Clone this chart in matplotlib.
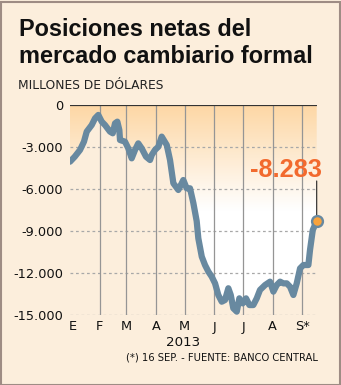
import numpy as np
import matplotlib
matplotlib.use("Agg")
import matplotlib.pyplot as plt
from matplotlib.patches import Rectangle
from matplotlib.colors import LinearSegmentedColormap

# ---- data (day of year 2013, Jan 1 = 0; values in millions of USD) ----
days = [0, 5, 10.5, 14.6, 17.5, 22.7, 26.2, 29.6, 33.2, 36.6, 41.8, 44.7, 47.1, 49.5,
        51.6, 52.3, 57.5, 61, 64.5, 68, 71.4, 75, 79.5, 83.7, 85.5, 88.9, 92.4, 95.9,
        101.2, 104.6, 108.1, 113.3, 118.5, 122, 125.5, 129, 132.5, 134.2, 137.8, 141.2,
        144.7, 148.2, 151.7, 155.1, 158.7, 162.1, 165.6, 168.1, 170.8, 174.4, 177.1,
        180.6, 184.1, 187.6, 191.7, 195.3, 198.7, 204, 209.2, 212.7, 216.2, 219.7,
        223.1, 226.7, 230.1, 233.6, 237.1, 240.6, 244.1, 249.3, 251, 253.9, 258]
values = [-4050, -3690, -3210, -2620, -1900, -1430, -950, -710, -1190, -1430, -1900,
          -2020, -1310, -1190, -1790, -2500, -2620, -3100, -3810, -3210, -2740, -3100,
          -3690, -3930, -3570, -3210, -2980, -2260, -2860, -3930, -5590, -6070, -5360,
          -5950, -5950, -7000, -8300, -9520, -10830, -11430, -11900, -12260, -12740,
          -13570, -14050, -13930, -13090, -13570, -14520, -14760, -13810, -14170,
          -13810, -14290, -14290, -13810, -13210, -12860, -12620, -13330, -12860,
          -12620, -12740, -12740, -12980, -13570, -12740, -11670, -11430, -11430,
          -10360, -8930, -8283]
month_starts = [0, 31, 59, 90, 120, 151, 181, 212, 243]
month_labels = ["E", "F", "M", "A", "M", "J", "J", "A", "S*"]
yticks = [0, -3000, -6000, -9000, -12000, -15000]
year_label = "2013"
subtitle = "MILLONES DE DÓLARES"
footnote = "(*) 16 SEP. - FUENTE: BANCO CENTRAL"

W, H = 341, 385
BG = "#FCEEDC"
LINE = "#6889A0"
ORANGE = "#F26A2E"

fig = plt.figure(figsize=(W / 100, H / 100), dpi=100, facecolor=BG)

def fx(x):
    return x / W

def fy(y):
    return 1 - y / H

ax = fig.add_axes([fx(70), fy(315), (316.7 - 70) / W, 210 / H])
ax.set_facecolor("none")
ax.set_xlim(0, 258)
ax.set_ylim(-15000, 0)
for s in ax.spines.values():
    s.set_visible(False)

# gradient fill between zero line and series
poly = ax.fill_between(days, values, 0, color="none", lw=0)
cmap = LinearSegmentedColormap.from_list("g", ["#FFFFFF", "#FFFFFF", "#FDD7A5"])
grad = np.linspace(0, 1, 256).reshape(-1, 1)
im = ax.imshow(grad, extent=[0, 258, -15000, 0], origin="lower", aspect="auto",
               cmap=cmap, zorder=1)
im.set_clip_path(poly.get_paths()[0], transform=ax.transData)

# horizontal dashed grid
for v in yticks[1:]:
    ax.axhline(v, color="#A8A8A8", lw=0.9, ls=(0, (2.2, 2.2)), zorder=2)
# vertical month lines
for d in month_starts[1:]:
    ax.plot([d, d], [-15000, 0], color="#959595", lw=0.9, zorder=2)
# zero line
ax.axhline(0, color="#333333", lw=1.6, zorder=3)

ax.plot(days, values, color=LINE, lw=4.5, solid_capstyle="round",
        solid_joinstyle="round", zorder=4)

# endpoint marker and label
ax.annotate("", xy=(days[-1], values[-1]), xytext=(0, 40), textcoords="offset pixels",
            arrowprops=dict(arrowstyle="-", color="#222222", lw=0.8, shrinkA=0, shrinkB=0),
            zorder=5)
ax.plot([days[-1]], [values[-1]], "o", ms=7.8, mfc="#F9A33C", mec=LINE, mew=1.7,
        zorder=6, clip_on=False)
lab = format(values[-1], ",").replace(",", ".")
ax.annotate(lab, xy=(days[-1], values[-1]), xytext=(5.5, 43.5),
            textcoords="offset pixels", ha="right", va="baseline",
            color=ORANGE, fontsize=18.3, fontweight="bold",
            family="Liberation Sans")

# ticks
ax.set_yticks(yticks)
ax.set_yticklabels([format(v, ",").replace(",", ".") for v in yticks])
ax.tick_params(axis="y", length=0, pad=5, labelsize=9.3, colors="#111111")
ax.set_xticks([])
tick_pos = [3] + month_starts[1:]
label_y = -15000 - 12 * 15000 / 210
for d, m in zip(tick_pos, month_labels):
    ax.text(d, label_y, m, ha="center", va="center", fontsize=9.3, color="#111111")

fig.text(fx(183), fy(343), year_label, ha="center", va="center", fontsize=9.6,
         color="#111111")
fig.text(fx(318), fy(361), footnote, ha="right", va="baseline", fontsize=7.2,
         color="#111111")

# titles
fig.text(fx(19), fy(36), "Posiciones netas del", ha="left", va="baseline",
         fontsize=16.9, fontweight="bold", family="Liberation Sans", color="#111111")
fig.text(fx(19), fy(63), "mercado cambiario formal", ha="left", va="baseline",
         fontsize=16.9, fontweight="bold", family="Liberation Sans", color="#111111")
fig.text(fx(18), fy(89), subtitle, ha="left", va="baseline", fontsize=8.8,
         color="#222222")

# border
fig.patches.append(Rectangle((0.5 / W, 0.5 / H), 1 - 2 / W, 1 - 2 / H,
                             transform=fig.transFigure, fill=False,
                             ec="#9E8C84", lw=1.5))

fig.savefig("out.png", dpi=100, facecolor=BG)
